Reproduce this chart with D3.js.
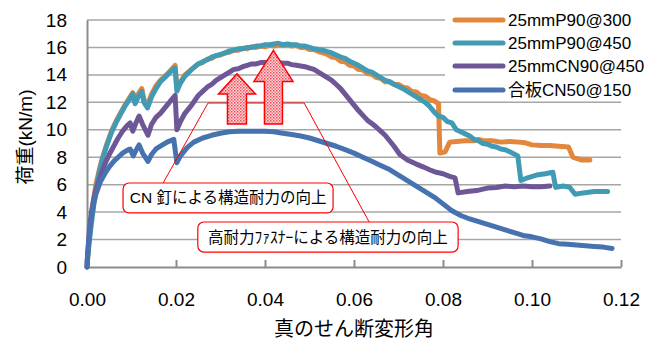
<!DOCTYPE html>
<html>
<head>
<meta charset="utf-8">
<script src="https://cdn.jsdelivr.net/npm/d3@7"></script>
<style>
  html, body { margin: 0; padding: 0; background: #fff; }
  svg { display: block; }
  text { font-family: "Liberation Sans", Arial, "Noto Sans CJK JP", sans-serif; fill: #000; }
</style>
</head>
<body>
<svg id="chart" width="659" height="345"></svg>
<script>
// Load–deformation curves: [shear deformation angle, load kN/m]
const seriesNames = ["25mmP90@300", "25mmP90@450", "25mmCN90@450", "合板CN50@150"];
const seriesColors = ["#e2873c", "#429bb4", "#6e5796", "#4673b0"];

const p90at300 = [
  [0,0],[0.0003,1.2],[0.0006,2.6],[0.001,3.8],[0.0015,5.0],[0.002,6.0],[0.0027,7.0],[0.0035,8.0],
  [0.0045,9.0],[0.0055,9.9],[0.0065,10.6],[0.0075,11.2],[0.0085,11.8],[0.0095,12.3],[0.0103,12.7],
  [0.0108,12.1],[0.0115,12.6],[0.0123,13.0],[0.0128,12.2],[0.0136,11.8],[0.0145,12.6],[0.0155,13.2],
  [0.0165,13.6],[0.0178,14.0],[0.019,14.4],[0.0198,14.7],[0.0202,13.0],[0.021,13.5],[0.022,14.0],
  [0.0235,14.4],[0.025,14.8],[0.026,14.9],[0.027,15.15],[0.028,15.2],[0.029,15.4],[0.03,15.45],
  [0.031,15.6],[0.032,15.65],[0.033,15.8],[0.034,15.8],[0.035,15.95],[0.036,15.9],[0.037,16.05],
  [0.038,16.0],[0.039,16.1],[0.04,16.05],[0.041,16.15],[0.042,16.1],[0.043,16.2],[0.044,16.15],
  [0.045,16.2],[0.046,16.1],[0.047,16.15],[0.048,16.0],[0.049,16.0],[0.05,15.85],[0.051,15.85],
  [0.052,15.7],[0.053,15.6],[0.054,15.5],[0.055,15.3],[0.056,15.25],[0.057,15.0],[0.058,14.95],
  [0.059,14.7],[0.06,14.65],[0.061,14.4],[0.062,14.35],[0.063,14.1],[0.064,14.05],[0.065,13.8],
  [0.066,13.75],[0.067,13.5],[0.068,13.5],[0.069,13.3],[0.07,13.3],[0.071,13.1],[0.072,13.05],
  [0.073,12.8],[0.074,12.75],[0.075,12.5],[0.076,12.45],[0.077,12.2],[0.078,12.1],[0.079,11.9],
  [0.0793,8.3],[0.0805,8.4],[0.0815,9.1],[0.083,9.15],[0.085,9.2],[0.087,9.2],[0.088,9.3],
  [0.089,9.2],[0.091,9.2],[0.093,9.1],[0.095,9.15],[0.097,9.1],[0.0985,9.05],[0.1,8.9],
  [0.102,8.85],[0.104,8.85],[0.106,8.8],[0.1082,8.75],[0.1092,8.0],[0.111,7.8],[0.113,7.8]
];

const p90at450 = [
  [0,0.4],[0.0005,1.8],[0.001,3.2],[0.0015,4.5],[0.002,5.6],[0.0027,6.8],[0.0035,7.9],[0.0045,8.9],
  [0.0055,9.8],[0.0065,10.5],[0.0075,11.1],[0.0085,11.7],[0.0095,12.2],[0.0103,12.6],[0.0108,11.9],
  [0.0115,12.4],[0.0123,12.8],[0.0128,12.0],[0.0136,11.6],[0.0145,12.4],[0.0155,13.0],[0.0165,13.5],
  [0.0178,13.9],[0.019,14.3],[0.0198,14.5],[0.0202,12.8],[0.021,13.4],[0.022,13.9],[0.0235,14.4],
  [0.025,14.8],[0.026,14.95],[0.027,15.1],[0.028,15.3],[0.029,15.4],[0.03,15.5],[0.031,15.6],
  [0.032,15.75],[0.033,15.8],[0.034,15.9],[0.035,15.9],[0.036,16.0],[0.037,16.0],[0.038,16.1],
  [0.039,16.1],[0.04,16.2],[0.041,16.2],[0.042,16.25],[0.043,16.3],[0.044,16.2],[0.045,16.25],
  [0.046,16.2],[0.047,16.2],[0.048,16.1],[0.049,16.1],[0.05,16.0],[0.051,15.9],[0.052,15.85],
  [0.053,15.8],[0.054,15.7],[0.055,15.6],[0.056,15.45],[0.057,15.3],[0.058,15.2],[0.059,15.0],
  [0.06,14.85],[0.061,14.7],[0.062,14.5],[0.063,14.3],[0.064,14.2],[0.065,14.0],[0.066,13.8],
  [0.067,13.6],[0.068,13.5],[0.069,13.3],[0.07,13.15],[0.071,13.0],[0.072,12.8],[0.073,12.6],
  [0.074,12.4],[0.075,12.2],[0.076,12.0],[0.077,11.7],[0.078,11.3],[0.079,11.0],[0.08,10.9],
  [0.081,10.6],[0.082,10.5],[0.083,10.0],[0.084,9.85],[0.085,9.7],[0.086,9.55],[0.087,9.3],
  [0.088,9.2],[0.089,9.0],[0.09,8.95],[0.091,8.8],[0.092,8.75],[0.093,8.6],[0.094,8.55],
  [0.095,8.4],[0.0968,8.1],[0.0975,6.3],[0.099,6.5],[0.101,6.7],[0.103,6.8],[0.1047,6.9],
  [0.1053,5.8],[0.107,5.9],[0.1085,5.8],[0.1097,5.3],[0.1115,5.4],[0.114,5.5],[0.117,5.5]
];

const cn90at450 = [
  [0,0],[0.0002,1.2],[0.0005,2.6],[0.001,4.0],[0.0015,4.9],[0.002,5.6],[0.003,6.6],[0.004,7.5],
  [0.005,8.2],[0.006,8.8],[0.007,9.4],[0.008,9.9],[0.009,10.3],[0.0097,10.5],[0.0103,9.9],
  [0.011,10.5],[0.0117,11.0],[0.0125,10.4],[0.0137,9.6],[0.0145,10.4],[0.0155,10.9],[0.0165,11.2],
  [0.018,11.8],[0.0193,12.3],[0.0198,12.5],[0.0202,10.0],[0.021,10.6],[0.022,11.2],[0.0235,11.8],
  [0.025,12.5],[0.026,12.8],[0.027,13.1],[0.028,13.3],[0.029,13.6],[0.03,13.8],[0.031,14.0],
  [0.032,14.2],[0.033,14.4],[0.034,14.45],[0.035,14.6],[0.036,14.7],[0.037,14.8],[0.038,14.8],
  [0.039,14.9],[0.04,14.9],[0.041,14.95],[0.042,14.9],[0.043,14.9],[0.044,14.85],[0.045,14.85],
  [0.046,14.75],[0.047,14.7],[0.048,14.65],[0.049,14.6],[0.05,14.5],[0.051,14.4],[0.052,14.2],
  [0.053,14.0],[0.054,13.8],[0.055,13.6],[0.056,13.3],[0.057,13.0],[0.058,12.6],[0.059,12.2],
  [0.06,11.8],[0.061,11.4],[0.062,11.05],[0.063,10.7],[0.064,10.45],[0.065,10.2],[0.066,9.9],
  [0.067,9.6],[0.068,9.2],[0.069,8.8],[0.0703,8.2],[0.072,7.8],[0.074,7.5],[0.0755,7.3],
  [0.0771,7.07],[0.0785,6.9],[0.08,6.8],[0.0815,6.6],[0.0827,6.5],[0.0834,5.4],[0.0855,5.5],
  [0.088,5.6],[0.09,5.75],[0.092,5.8],[0.094,5.9],[0.096,5.85],[0.098,5.9],[0.1,5.85],
  [0.102,5.85],[0.104,5.9]
];

const plywoodCn50at150 = [
  [0,0],[0.0003,1.5],[0.0007,2.8],[0.001,3.6],[0.0015,4.6],[0.002,5.3],[0.003,6.2],[0.004,6.8],
  [0.005,7.3],[0.006,7.7],[0.007,8.0],[0.008,8.3],[0.009,8.5],[0.0097,8.6],[0.0104,8.1],
  [0.011,8.5],[0.0117,8.9],[0.0125,8.3],[0.0137,7.7],[0.0145,8.2],[0.0155,8.6],[0.0165,8.8],
  [0.018,9.1],[0.0195,9.3],[0.0202,7.6],[0.021,8.1],[0.0225,8.7],[0.024,9.1],[0.026,9.4],
  [0.028,9.6],[0.03,9.75],[0.032,9.85],[0.034,9.9],[0.036,9.9],[0.038,9.9],[0.04,9.9],
  [0.042,9.85],[0.044,9.75],[0.046,9.65],[0.048,9.55],[0.05,9.4],[0.052,9.2],[0.054,9.0],
  [0.056,8.8],[0.058,8.55],[0.06,8.3],[0.062,8.0],[0.064,7.7],[0.066,7.4],[0.068,7.1],
  [0.07,6.7],[0.072,6.3],[0.074,5.9],[0.076,5.5],[0.078,5.1],[0.08,4.6],[0.082,4.1],
  [0.084,3.75],[0.086,3.5],[0.088,3.3],[0.09,3.1],[0.092,2.9],[0.094,2.7],[0.096,2.5],
  [0.098,2.3],[0.1,2.2],[0.102,2.05],[0.104,1.85],[0.106,1.7],[0.108,1.65],[0.11,1.6],
  [0.112,1.55],[0.114,1.5],[0.116,1.45],[0.118,1.35]
];

const seriesData = [p90at300, p90at450, cn90at450, plywoodCn50at150];

const xTicks = [0, 0.02, 0.04, 0.06, 0.08, 0.10, 0.12];
const yTicks = [0, 2, 4, 6, 8, 10, 12, 14, 16, 18];
const xTitle = "真のせん断変形角";
const yTitle = "荷重(kN/m)";

// Callout texts and the two "improvement" arrows (in data units)
const calloutTexts = ["CN 釘による構造耐力の向上", "高耐力ﾌｧｽﾅｰによる構造耐力の向上"];
const arrowSpecs = [
  { x: 0.0337, base: 10.42, neck: 12.61, tip: 14.07, shaft: 9.5, head: 18.5 },
  { x: 0.0419, base: 10.42, neck: 13.52, tip: 15.78, shaft: 9, head: 19.5 }
];
const leaderPoints = [[0.0171, 6.12], [0.0272, 11.95], [0.0488, 11.95], [0.0634, 3.28]];
const calloutBoxes = [
  { x0: 0.0081, x1: 0.0553, y0: 6.12, y1: 3.94 },
  { x0: 0.0249, x1: 0.0834, y0: 3.28, y1: 1.09 }
];

const svg = d3.select("#chart");
const x = d3.scaleLinear().domain([0, 0.12]).range([87, 621]);
const y = d3.scaleLinear().domain([0, 18]).range([267, 20]);

// Horizontal gridlines
svg.append("g").selectAll("line").data(yTicks.filter(d => d > 0)).join("line")
  .attr("x1", x(0)).attr("x2", x(0.12))
  .attr("y1", d => y(d)).attr("y2", d => y(d))
  .attr("stroke", "#a6a6a6").attr("stroke-width", 1.5);

// Y axis
const yAxis = svg.append("g").attr("transform", `translate(${x(0)},0)`)
  .call(d3.axisLeft(y).tickValues(yTicks).tickSize(0).tickPadding(20).tickFormat(d3.format("d")));
yAxis.select(".domain").attr("stroke", "#8c8c8c").attr("stroke-width", 2);
yAxis.selectAll("text").attr("font-size", 19).attr("font-family", "Liberation Sans, Arial, sans-serif");

// X axis, ticks pointing into the plot
const xAxis = svg.append("g").attr("transform", `translate(0,${y(0)})`)
  .call(d3.axisBottom(x).tickValues(xTicks).tickSizeInner(-7).tickSizeOuter(0).tickPadding(26)
    .tickFormat(d3.format(".2f")));
xAxis.select(".domain").attr("stroke", "#8c8c8c").attr("stroke-width", 2);
xAxis.selectAll(".tick line").attr("stroke", "#8c8c8c").attr("stroke-width", 2);
xAxis.selectAll("text").attr("font-size", 19).attr("font-family", "Liberation Sans, Arial, sans-serif");

// Axis titles
svg.append("text").attr("x", (x(0) + x(0.12)) / 2).attr("y", 336)
  .attr("text-anchor", "middle").attr("font-size", 20).text(xTitle);
svg.append("text").attr("transform", "translate(32,137) rotate(-90)")
  .attr("text-anchor", "middle").attr("font-size", 19).text(yTitle);

// Curves
const line = d3.line().x(d => x(d[0])).y(d => y(d[1]));
svg.append("g").selectAll("path").data(seriesData).join("path")
  .attr("d", line)
  .attr("fill", "none")
  .attr("stroke", (d, i) => seriesColors[i])
  .attr("stroke-width", 5)
  .attr("stroke-linejoin", "round")
  .attr("stroke-linecap", "round");

// Leader line joining the two callouts
svg.append("path")
  .attr("d", d3.line().x(d => x(d[0])).y(d => y(d[1]))(leaderPoints))
  .attr("fill", "none").attr("stroke", "#ff0000").attr("stroke-width", 1);

// Hatched fill for the block arrows
const defs = svg.append("defs");
const pat = defs.append("pattern").attr("id", "hatch").attr("patternUnits", "userSpaceOnUse")
  .attr("width", 3).attr("height", 3);
pat.append("rect").attr("width", 3).attr("height", 3).attr("fill", "#fbd6d9");
pat.append("rect").attr("width", 1.5).attr("height", 1.5).attr("fill", "#ee4a58");
pat.append("rect").attr("x", 1.5).attr("y", 1.5).attr("width", 1.5).attr("height", 1.5).attr("fill", "#f47c86");

svg.append("g").selectAll("path").data(arrowSpecs).join("path")
  .attr("d", a => {
    const cx = x(a.x);
    return `M${cx - a.shaft},${y(a.base)} L${cx - a.shaft},${y(a.neck)} L${cx - a.head},${y(a.neck)}
            L${cx},${y(a.tip)} L${cx + a.head},${y(a.neck)} L${cx + a.shaft},${y(a.neck)}
            L${cx + a.shaft},${y(a.base)} Z`;
  })
  .attr("fill", "url(#hatch)").attr("stroke", "#ff0000").attr("stroke-width", 1.5)
  .attr("stroke-linejoin", "miter");

// Callout boxes
const boxes = svg.append("g").selectAll("g").data(calloutBoxes).join("g");
boxes.append("rect")
  .attr("x", b => x(b.x0)).attr("y", b => y(b.y0))
  .attr("width", b => x(b.x1) - x(b.x0)).attr("height", b => y(b.y1) - y(b.y0))
  .attr("rx", 6).attr("fill", "#fff").attr("stroke", "#ff0000").attr("stroke-width", 1.2);
boxes.append("text")
  .attr("x", b => (x(b.x0) + x(b.x1)) / 2).attr("y", b => (y(b.y0) + y(b.y1)) / 2 + 5.5)
  .attr("text-anchor", "middle").attr("font-size", 15.5)
  .text((b, i) => calloutTexts[i]);

// Legend
const legend = svg.append("g");
legend.append("rect").attr("x", 445).attr("y", 8).attr("width", 214).attr("height", 90).attr("fill", "#fff");
const legendY = [20, 43, 66, 90];
const items = legend.selectAll("g.item").data(seriesNames).join("g").attr("class", "item")
  .attr("transform", (d, i) => `translate(0,${legendY[i]})`);
items.append("line").attr("x1", 455).attr("x2", 503).attr("y1", 0).attr("y2", 0)
  .attr("stroke", (d, i) => seriesColors[i]).attr("stroke-width", 5).attr("stroke-linecap", "round");
items.append("text").attr("x", 508).attr("y", 6).attr("font-size", 17).text(d => d);
</script>
</body>
</html>
